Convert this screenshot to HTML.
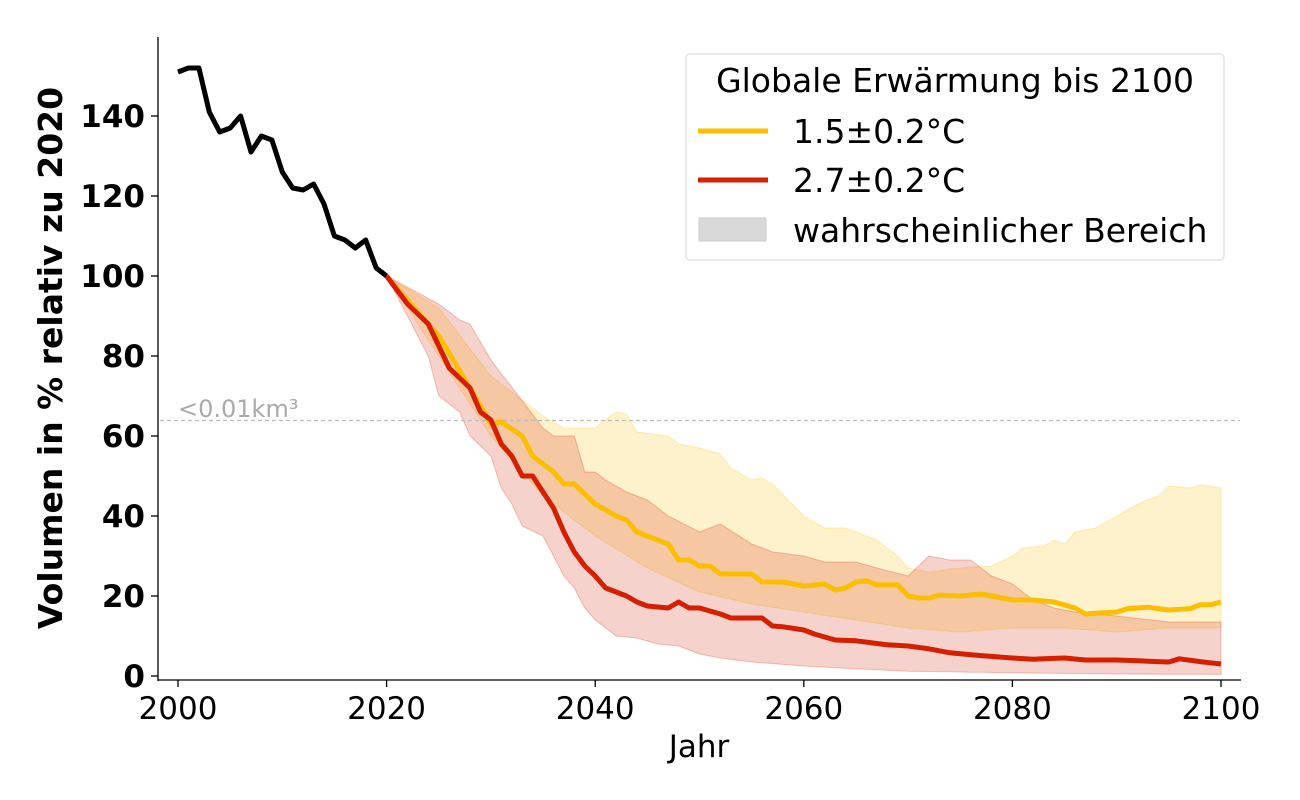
<!DOCTYPE html>
<html><head><meta charset="utf-8"><style>
html,body{margin:0;padding:0;background:#fff;}
svg{display:block;font-family:"DejaVu Sans","Liberation Sans",sans-serif;}
</style></head><body>
<svg id="s" width="1300" height="800" xmlns="http://www.w3.org/2000/svg">
<g id="bands"></g>
<line x1="160" y1="420.5" x2="1240" y2="420.5" stroke="#bbb" stroke-width="1.2" stroke-dasharray="4,3"/>
<text x="178" y="417" font-size="24" fill="#aaa">&lt;0.01km³</text>
<g id="lines"></g>
<line x1="158" y1="37" x2="158" y2="681" stroke="#000" stroke-width="1.3"/>
<line x1="158" y1="680" x2="1241" y2="680" stroke="#000" stroke-width="1.3"/>
<g id="ticks" font-size="31" font-weight="bold"></g>
<g id="xt" font-size="31"></g>
<text x="699" y="757" font-size="31" text-anchor="middle">Jahr</text>
<text transform="translate(62,358) rotate(-90)" font-size="33" font-weight="bold" text-anchor="middle">Volumen in % relativ zu 2020</text>
<rect x="686" y="54" width="538" height="206" rx="4" fill="#fff" fill-opacity="0.85" stroke="#ddd" stroke-width="1.2"/>
<text x="955" y="92" font-size="33" text-anchor="middle">Globale Erwärmung bis 2100</text>
<line x1="698" y1="131" x2="768" y2="131" stroke="#fbbf00" stroke-width="5"/>
<text x="793" y="143" font-size="33">1.5±0.2°C</text>
<line x1="698" y1="180" x2="768" y2="180" stroke="#d42000" stroke-width="5"/>
<text x="793" y="192" font-size="33">2.7±0.2°C</text>
<rect x="699" y="218" width="67" height="23" fill="#d9d9d9" stroke="#ccc"/>
<text x="793" y="242" font-size="33">wahrscheinlicher Bereich</text>
</svg>
<script>
function X(y){return 178+(y-2000)*10.43;}
function Y(v){return 676-v*4;}
function interp(pts){var o=[];for(var i=0;i<pts.length-1;i++){var a=pts[i],b=pts[i+1];for(var y=a[0];y<b[0];y++)o.push([y,a[1]+(b[1]-a[1])*(y-a[0])/(b[0]-a[0])]);}o.push(pts[pts.length-1]);return o;}
function path(p){return p.map(function(q,i){return (i?"L":"M")+X(q[0]).toFixed(1)+","+Y(q[1]).toFixed(1);}).join("");}
function P(a){var o=[];for(var i=0;i<a.length;i+=2)o.push([a[i],a[i+1]]);return o;}
var black=P([2000,151,2001,152,2002,152,2003,141,2004,136,2005,137,2006,140,2007,131,2008,135,2009,134,2010,126,2011,122,2012,121.5,2013,123,2014,118,2015,110,2016,109,2017,107,2018,109,2019,102,2020,100]);
var red=P([2020,100,2022,93,2024,88,2026,77,2028,72,2029,66,2030,64,2031,58,2032,55,2033,50,2034,50,2035,46,2036,42,2037,36,2038,31,2039,27.5,2040,25,2041,22,2043,20,2044,18.5,2045,17.5,2047,17,2048,18.5,2049,17,2050,17,2052,15.5,2053,14.5,2056,14.5,2057,12.5,2058,12.3,2060,11.5,2061,10.5,2063,9,2065,8.8,2068,7.8,2070,7.5,2072,6.8,2074,5.8,2076,5.3,2080,4.5,2082,4.2,2085,4.5,2087,4.0,2090,4.0,2095,3.5,2096,4.3,2098,3.6,2100,3]);
var yel=P([2020,100,2025,85,2028,72,2030,63,2031,63.5,2033,60,2034,55,2036,51,2037,48,2038,48,2040,43,2042,40,2043,39,2044,36,2046,34,2047,33,2048,29,2049,29,2050,27.5,2051,27.5,2052,25.5,2055,25.5,2056,23.5,2058,23.5,2060,22.5,2062,23,2063,21.5,2064,22,2065,23.5,2066,23.8,2067,22.8,2069,22.8,2070,20,2071,19.5,2072,19.5,2073,20.2,2075,20,2077,20.5,2080,19,2082,19,2084,18.5,2086,17,2087,15.5,2088,15.7,2090,16,2091,16.8,2093,17.2,2095,16.5,2097,16.8,2098,17.8,2099,17.8,2100,18.5]);
var yu=P([2020,100,2025,92,2030,75,2035,65,2037,62,2040,62,2042,66,2043,65.5,2044,61,2047,60,2048,58,2050,57,2052,55.5,2053,52,2055,49,2056,49.5,2057,48,2060,40,2062,37,2064,37,2066,35,2067,34,2069,30,2070,27,2072,26,2075,27,2078,27.5,2080,30,2081,32,2083,32.5,2084,34,2085,33,2086,36,2088,37,2090,40,2092,43,2094,45,2095,47.5,2097,47,2098,47.8,2100,47]);
var yl=P([2020,100,2025,80,2030,60,2035,45,2040,35,2045,27,2050,21,2055,18,2060,16,2065,14,2070,12,2075,11,2080,12,2085,12,2090,11,2095,12,2100,12]);
var ru=P([2020,100,2025,93,2027,89,2028,88,2030,79,2035,62,2036,60,2038,60,2039,51,2040,51,2041,49,2043,46,2045,44,2047,40,2050,36,2052,38,2055,33,2057,31,2060,30,2062,28.5,2065,28.5,2067,27,2070,25,2072,30,2074,29,2076,29,2078,25,2080,23,2082,19,2084,17,2086,16,2090,15,2095,13.5,2100,13.5]);
var rl=P([2020,100,2022,90,2024,80,2025,70,2027,66,2028,60,2030,55,2031,47,2032,43,2033,37.5,2035,35,2036,30,2037,25,2038,22,2039,17,2040,14,2042,10,2044,9.5,2046,8,2048,7.5,2050,5.5,2052,4.5,2055,3.5,2060,2.5,2065,1.8,2070,1.2,2080,0.8,2090,0.5,2100,0.4]);
function band(u,l,c){var a=interp(u),b=interp(l).reverse();return '<path d="'+path(a)+path(b).replace("M","L")+'Z" fill="'+c+'" fill-opacity="0.2" stroke="'+c+'" stroke-opacity="0.25"/>';}
document.getElementById("bands").innerHTML=band(yu,yl,"#fbbf00")+band(ru,rl,"#d42000");
function ln(p,c){return '<path d="'+path(interp(p))+'" fill="none" stroke="'+c+'" stroke-width="5" stroke-linejoin="round"/>';}
document.getElementById("lines").innerHTML=ln(yel,"#fbbf00")+ln(red,"#d42000")+ln(black,"#000");
var t="";for(var v=0;v<=140;v+=20){t+='<line x1="151" y1="'+Y(v)+'" x2="158" y2="'+Y(v)+'" stroke="#000" stroke-width="1.3"/><text x="145" y="'+(Y(v)+11)+'" text-anchor="end">'+v+'</text>';}
document.getElementById("ticks").innerHTML=t;
t="";for(var y=2000;y<=2100;y+=20){t+='<line x1="'+X(y)+'" y1="680" x2="'+X(y)+'" y2="687" stroke="#000" stroke-width="1.3"/><text x="'+X(y)+'" y="719" text-anchor="middle">'+y+'</text>';}
document.getElementById("xt").innerHTML=t;
</script>
</body></html>
